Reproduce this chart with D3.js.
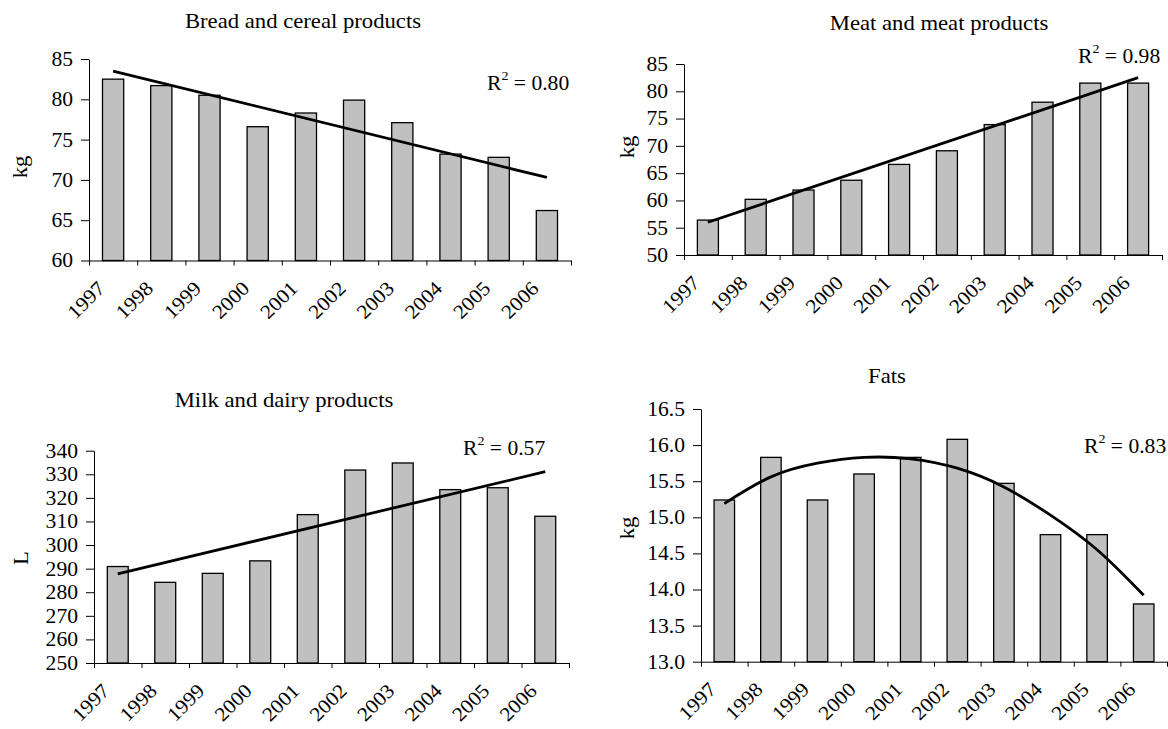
<!DOCTYPE html>
<html>
<head>
<meta charset="utf-8">
<script src="https://cdn.jsdelivr.net/npm/d3@7"></script>
<style>
  body { margin: 0; background: #fff; }
  svg text { font-family: "Liberation Serif", "Times New Roman", serif; fill: #000; }
  .tick text { font-size: 20px; }
  .title, .unit { font-size: 21px; }
  .year { font-size: 20px; }
  .r2 { font-size: 20px; }
</style>
</head>
<body>
<svg width="1168" height="729"></svg>
<script>
// data
const years = ["1997", "1998", "1999", "2000", "2001", "2002", "2003", "2004", "2005", "2006"];

const breadValues = [82.5, 81.7, 80.5, 76.6, 78.3, 79.9, 77.1, 73.2, 72.8, 66.2];
const meatValues  = [56.4, 60.2, 61.9, 63.7, 66.6, 69.1, 73.9, 78.0, 81.5, 81.5];
const milkValues  = [290.9, 284.2, 288.0, 293.3, 312.9, 331.8, 334.8, 323.5, 324.3, 312.2];
const fatsValues  = [15.24, 15.83, 15.24, 15.60, 15.83, 16.08, 15.47, 14.76, 14.76, 13.80];

// trend lines (linear ones: value at first and last year)
const linearTrendYears = ["1997", "2006"];
const breadTrend = [83.5, 70.3];
const meatTrend  = [56.0, 82.5];
const milkTrend  = [287.8, 331.1];
const fatsTrend  = [15.19, 15.56, 15.75, 15.83, 15.81, 15.68, 15.42, 15.03, 14.55, 13.92];

const breadTicks = [60, 65, 70, 75, 80, 85];
const meatTicks  = [50, 55, 60, 65, 70, 75, 80, 85];
const milkTicks  = [250, 260, 270, 280, 290, 300, 310, 320, 330, 340];
const fatsTicks  = [13.0, 13.5, 14.0, 14.5, 15.0, 15.5, 16.0, 16.5];

const titles = ["Bread and cereal products", "Meat and meat products", "Milk and dairy products", "Fats"];
const units = ["kg", "kg", "L", "kg"];
const rSquared = ["0.80", "0.98", "0.57", "0.83"];

const svg = d3.select("svg");
const textStretch = 1.08; // the scan is a bit wider than Times

const panels = [
    { title: titles[0], unit: units[0], r2: rSquared[0], values: breadValues, ticks: breadTicks,
      trendYears: linearTrendYears, trend: breadTrend, fmt: d3.format("d"),
      left: 89, right: 571, top: 59, bottom: 260.5,
      titleX: 303, titleY: 28, unitX: 27, unitY: 167, r2X: 487, r2Y: 90 },
    { title: titles[1], unit: units[1], r2: rSquared[1], values: meatValues, ticks: meatTicks,
      trendYears: linearTrendYears, trend: meatTrend, fmt: d3.format("d"),
      left: 684, right: 1162, top: 64, bottom: 255,
      titleX: 939, titleY: 30, unitX: 634, unitY: 147, r2X: 1078, r2Y: 63 },
    { title: titles[2], unit: units[2], r2: rSquared[2], values: milkValues, ticks: milkTicks,
      trendYears: linearTrendYears, trend: milkTrend, fmt: d3.format("d"),
      left: 94, right: 569, top: 450.7, bottom: 663,
      titleX: 284, titleY: 407, unitX: 28, unitY: 558, r2X: 463, r2Y: 455 },
    { title: titles[3], unit: units[3], r2: rSquared[3], values: fatsValues, ticks: fatsTicks,
      trendYears: years, trend: fatsTrend, fmt: d3.format(".1f"),
      left: 701, right: 1167, top: 409, bottom: 661.7,
      titleX: 887, titleY: 383, unitX: 634, unitY: 528, r2X: 1084, r2Y: 453 }
];

panels.forEach(drawPanel);

// widen every label a little
svg.selectAll("text").each(function() {
    const len = this.getComputedTextLength();
    if (len > 0) {
        d3.select(this).attr("textLength", len * textStretch).attr("lengthAdjust", "spacingAndGlyphs");
    }
});

function drawPanel(p) {
    const g = svg.append("g");
    const x = d3.scaleBand().domain(years).range([p.left, p.right])
        .paddingInner(0.56).paddingOuter(0.28);
    const y = d3.scaleLinear().domain([p.ticks[0], p.ticks[p.ticks.length - 1]]).range([p.bottom, p.top]);
    const slots = d3.scaleLinear().domain([0, years.length]).range([p.left, p.right]);

    // bars
    g.selectAll("rect").data(p.values).join("rect")
        .attr("x", (d, i) => x(years[i]))
        .attr("y", d => y(d))
        .attr("width", x.bandwidth())
        .attr("height", d => y(p.ticks[0]) - y(d))
        .attr("fill", "#c0c0c0")
        .attr("stroke", "#000")
        .attr("stroke-width", 1.3);

    // axes
    g.append("g")
        .attr("transform", `translate(${p.left},0)`)
        .style("color", "#000")
        .call(d3.axisLeft(y).tickValues(p.ticks).tickFormat(p.fmt).tickSize(8).tickSizeOuter(0).tickPadding(8));

    g.append("g")
        .attr("transform", `translate(0,${p.bottom})`)
        .style("color", "#000")
        .call(d3.axisBottom(slots).tickValues(d3.range(years.length + 1)).tickFormat("").tickSize(5).tickSizeOuter(0));

    // rotated year labels
    g.selectAll("text.year").data(years).join("text")
        .attr("class", "year")
        .attr("text-anchor", "end")
        .attr("transform", d => `translate(${x(d) + x.bandwidth() / 2 - 7},${p.bottom + 29}) rotate(-45)`)
        .text(d => d);

    // trend line
    const line = d3.line()
        .x(d => x(d.year) + x.bandwidth() / 2)
        .y(d => y(d.value))
        .curve(p.trendYears.length > 2 ? d3.curveNatural : d3.curveLinear);
    g.append("path")
        .datum(p.trendYears.map((yr, i) => ({ year: yr, value: p.trend[i] })))
        .attr("d", line)
        .attr("fill", "none")
        .attr("stroke", "#000")
        .attr("stroke-width", 2.8);

    // title, unit, R²
    g.append("text").attr("class", "title")
        .attr("x", p.titleX).attr("y", p.titleY)
        .attr("text-anchor", "middle")
        .text(p.title);

    g.append("text").attr("class", "unit")
        .attr("transform", `translate(${p.unitX},${p.unitY}) rotate(-90)`)
        .attr("text-anchor", "middle")
        .text(p.unit);

    const r2 = g.append("text").attr("class", "r2")
        .attr("x", p.r2X).attr("y", p.r2Y);
    r2.append("tspan").text("R");
    r2.append("tspan").attr("dy", -10).style("font-size", "13px").text("2");
    r2.append("tspan").attr("dy", 10).text(" = " + p.r2);
}
</script>
</body>
</html>
